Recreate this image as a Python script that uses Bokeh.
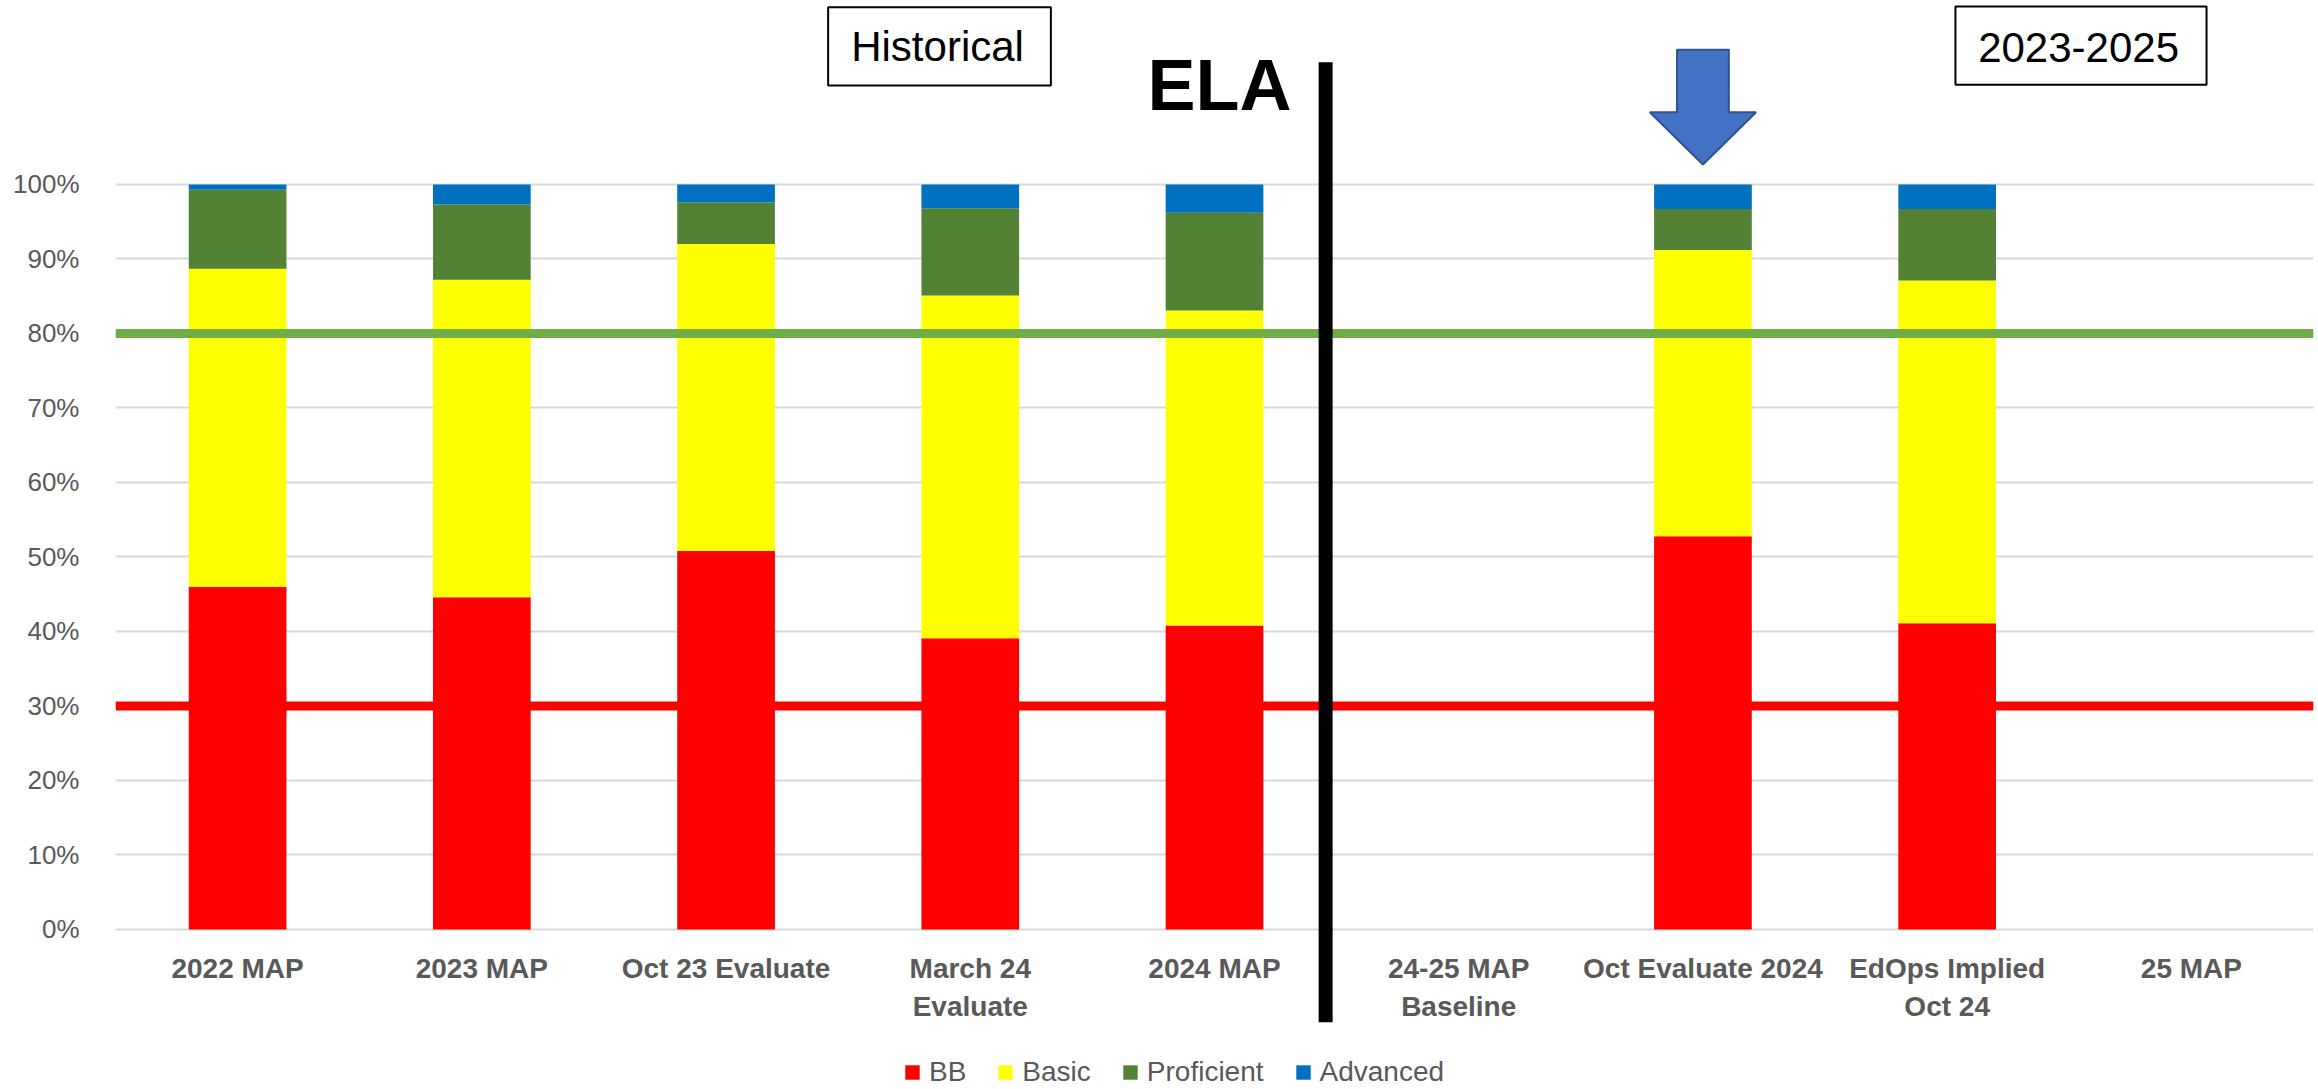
from bokeh.plotting import figure
from bokeh.models import (FactorRange, Range1d, FixedTicker, NumeralTickFormatter,
                          Span, Legend, LegendItem, ColumnDataSource)
from bokeh.core.properties import value
from bokeh.embed import file_html
from bokeh.resources import INLINE

# ---------------- data ----------------
categories = ["2022 MAP", "2023 MAP", "Oct 23 Evaluate", "March 24\nEvaluate", "2024 MAP",
              "24-25 MAP\nBaseline", "Oct Evaluate 2024", "EdOps Implied\nOct 24", "25 MAP"]
bb = [0.460, 0.446, 0.508, 0.391, 0.408, 0.0, 0.528, 0.411, 0.0]
basic = [0.427, 0.426, 0.412, 0.460, 0.423, 0.0, 0.384, 0.460, 0.0]
proficient = [0.106, 0.101, 0.056, 0.117, 0.131, 0.0, 0.055, 0.096, 0.0]
advanced = [0.007, 0.027, 0.024, 0.032, 0.038, 0.0, 0.033, 0.033, 0.0]
series = ["BB", "Basic", "Proficient", "Advanced"]
colors = ["#FF0000", "#FFFF00", "#548235", "#0070C0"]
y_ticks = [0.0, 0.1, 0.2, 0.3, 0.4, 0.5, 0.6, 0.7, 0.8, 0.9, 1.0]
target_high = 0.8
target_low = 0.3
title_text = "ELA"
left_box_text = "Historical"
right_box_text = "2023-2025"
highlight_category = "Oct Evaluate 2024"
divider_after = "2024 MAP"

FONT = "Liberation Sans"
GRAY = "#595959"

# frame covers the full height; the category axis is pinned at 0 %
p = figure(width=2318, height=1089,
           x_range=FactorRange(factors=categories, range_padding=0),
           y_range=Range1d(-0.21477, 1.24698),
           output_backend="svg", toolbar_location=None,
           min_border_left=115, min_border_right=5, min_border_top=0,
           min_border_bottom=0)
p.outline_line_color = None
p.background_fill_color = "white"

source = ColumnDataSource(dict(x=categories, BB=bb, Basic=basic,
                               Proficient=proficient, Advanced=advanced))
rs = p.vbar_stack(series, x="x", width=0.4, fill_color=colors, line_color=None,
                  source=source)

# axes
p.yaxis.ticker = FixedTicker(ticks=y_ticks)
p.yaxis.formatter = NumeralTickFormatter(format="0%")
p.yaxis.major_label_text_font = FONT
p.yaxis.major_label_text_font_size = "26px"
p.yaxis.major_label_text_color = GRAY
p.yaxis.major_label_standoff = 30
p.yaxis.axis_line_color = None
p.yaxis.major_tick_line_color = None
p.yaxis.minor_tick_line_color = None

p.xaxis.fixed_location = 0
p.xaxis.major_label_text_font = FONT
p.xaxis.major_label_text_font_size = "28px"
p.xaxis.major_label_text_font_style = "bold"
p.xaxis.major_label_text_color = GRAY
p.xaxis.major_label_standoff = 18
p.xaxis.axis_line_color = None
p.xaxis.major_tick_line_color = None
p.xaxis.minor_tick_line_color = None

p.xgrid.visible = False
p.ygrid.ticker = FixedTicker(ticks=y_ticks)
p.ygrid.grid_line_color = "#D9D9D9"
p.ygrid.grid_line_width = 2

# target lines
p.add_layout(Span(location=target_high, dimension="width", line_color="#70AD47", line_width=9))
p.add_layout(Span(location=target_low, dimension="width", line_color="#FF0000", line_width=9))

# divider line between historical and current
div_x = categories.index(divider_after) + 0.955
p.segment(x0=[div_x], y0=[1.1642], x1=[div_x], y1=[-0.1244],
          line_color="black", line_width=14, level="overlay")

# boxes with headings
p.quad(left=[2.918, 7.534], right=[3.830, 8.562], bottom=[1.1329, 1.1338],
       top=[1.2380, 1.2389], fill_color="white", line_color="black", line_width=2)
p.text(x=[3.366, 8.038], y=[1.1859, 1.1843], text=[left_box_text, right_box_text],
       text_align="center", text_baseline="middle", text_font=value(FONT),
       text_font_size="42px", text_color="black")
p.text(x=[4.520], y=[1.1340], text=[title_text], text_align="center",
       text_baseline="middle", text_font=value(FONT),
       text_font_size="72px", text_font_style="bold", text_color="black")

# blue arrow pointing at highlighted bar
cx = categories.index(highlight_category) + 0.5
sw, hw = 0.106, 0.2175
y_top, y_head, y_tip = 1.1808, 1.0970, 1.0268
p.patch(x=[cx - sw, cx + sw, cx + sw, cx + hw, cx, cx - hw, cx - sw],
        y=[y_top, y_top, y_head, y_head, y_tip, y_head, y_head],
        fill_color="#4472C4", line_color="#2F528F", line_width=2)

legend = Legend(items=[LegendItem(label=s, renderers=[r]) for s, r in zip(series, rs)],
                orientation="horizontal", location=(788, 1),
                glyph_width=18, glyph_height=18, label_standoff=8, spacing=30,
                padding=0, margin=0, border_line_color=None, background_fill_alpha=0,
                label_text_font=FONT, label_text_font_size="28px",
                label_text_color=GRAY)
p.add_layout(legend)

open("out.html", "w").write(file_html(p, INLINE))
